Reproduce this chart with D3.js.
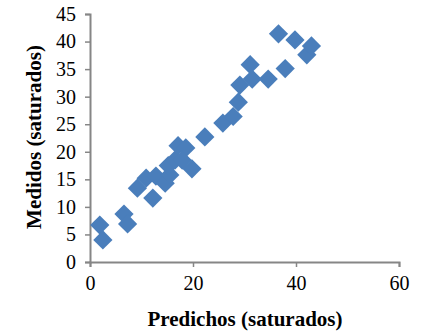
<!DOCTYPE html>
<html><head><meta charset="utf-8">
<script src="https://cdn.jsdelivr.net/npm/d3@7"></script>
<style>
body{margin:0;background:#fff;}
svg{display:block;}
.tick text{font-family:"Liberation Serif","Times New Roman",serif;font-size:20px;fill:#000;}
</style></head><body>
<div id="chart"></div>
<script>
const predichos = [1.9,2.5,6.6,7.3,9.2,10.9,12.2,12.8,14.6,15.5,15.2,16.5,17.1,18.6,17.9,19.8,22.3,25.8,27.8,28.8,29.1,31.1,31.5,34.6,36.6,37.9,39.8,42.1,43.0];
const medidos   = [6.7,4.0,8.7,6.9,13.4,15.2,11.6,15.6,14.3,15.8,17.5,18.5,21.1,20.7,18.5,16.9,22.7,25.2,26.4,29.0,32.1,35.8,33.2,33.2,41.4,35.1,40.3,37.6,39.2];
const xTicks = [0,20,40,60];
const yTicks = [0,5,10,15,20,25,30,35,40,45];

const W=423,H=335;
const m={left:90,right:24,top:14,bottom:73};
const svg=d3.select("#chart").append("svg").attr("width",W).attr("height",H);
const x=d3.scaleLinear().domain([0,60]).range([m.left,W-m.right]);
const y=d3.scaleLinear().domain([0,45]).range([H-m.bottom,m.top]);
const axisColor="#868686";

const gx=svg.append("g").attr("transform",`translate(0,${y(0)})`)
  .call(d3.axisBottom(x).tickValues(xTicks).tickSize(5).tickPadding(9).tickFormat(d3.format("d")));
const gy=svg.append("g").attr("transform",`translate(${x(0)},0)`)
  .call(d3.axisLeft(y).tickValues(yTicks).tickSize(5).tickPadding(9).tickFormat(d3.format("d")));
[gx,gy].forEach(g=>{
  g.selectAll(".domain").attr("stroke",axisColor).attr("stroke-width",2);
  g.selectAll(".tick line").attr("stroke",axisColor).attr("stroke-width",1.5);
});

const data=predichos.map((p,i)=>({p,m:medidos[i]}));
const sym=d3.symbol().type(d3.symbolSquare).size(185);
svg.append("g").selectAll("path").data(data).join("path")
  .attr("d",sym)
  .attr("transform",d=>`translate(${x(d.p)},${y(d.m)}) rotate(45)`)
  .attr("fill","#4a7ebb");

svg.append("text").attr("x",245).attr("y",326).attr("text-anchor","middle")
  .style("font-family","'Liberation Serif','Times New Roman',serif").style("font-weight","bold").style("font-size","21px")
  .text("Predichos (saturados)");
svg.append("text").attr("transform","translate(41,137) rotate(-90)").attr("text-anchor","middle")
  .style("font-family","'Liberation Serif','Times New Roman',serif").style("font-weight","bold").style("font-size","21px")
  .text("Medidos (saturados)");
</script></body></html>
